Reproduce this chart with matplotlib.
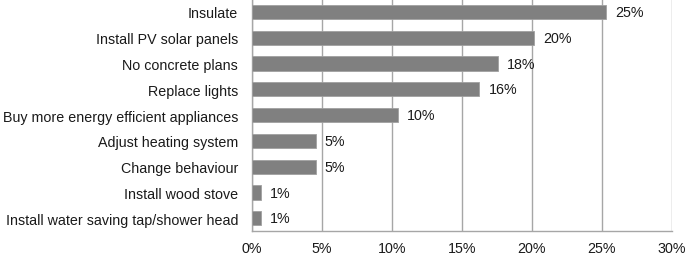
import matplotlib.pyplot as plt
from matplotlib.ticker import FuncFormatter

plt.rcParams['font.family'] = ['Liberation Sans', 'DejaVu Sans']

# answers, top to bottom
categories = ['Insulate', 'Install PV solar panels', 'No concrete plans',
              'Replace lights', 'Buy more energy efficient appliances',
              'Adjust heating system', 'Change behaviour',
              'Install wood stove', 'Install water saving tap/shower head']
shares = [25.3, 20.15, 17.55, 16.25, 10.4, 4.55, 4.55, 0.62, 0.62]
xticks = [0, 5, 10, 15, 20, 25, 30]

grid_col = '#a6a6a6'
fs = 10.3

fig = plt.figure(figsize=(6.85, 2.55), dpi=100)
ax = fig.add_axes([0.368, 0.089, 0.6126, 0.911])

ypos = list(range(len(categories)))[::-1]
ax.barh(ypos, shares, height=0.55, color='#808080', edgecolor='#a0a0a0',
        linewidth=0.6, zorder=3)
for y, v in zip(ypos, shares):
    ax.text(v + 0.65, y, f'{round(v):d}%', va='center', ha='left',
            fontsize=fs, color='#1a1a1a', zorder=4)

ax.set_xlim(0, 30)
ax.set_ylim(-0.5, len(categories) - 0.5)
ax.set_xticks(xticks)
ax.xaxis.set_major_formatter(FuncFormatter(lambda x, p: f'{x:.0f}%'))
ax.set_yticks(ypos)
ax.set_yticklabels(categories)
ax.tick_params(axis='both', length=0, labelsize=fs, colors='#1a1a1a')
ax.tick_params(axis='y', pad=10)
ax.tick_params(axis='x', pad=7)
ax.grid(axis='x', color=grid_col, linewidth=1, zorder=0)
for s in ['top', 'right']:
    ax.spines[s].set_visible(False)
for s in ['left', 'bottom']:
    ax.spines[s].set_color(grid_col)
    ax.spines[s].set_linewidth(1)

fig.savefig('out.png', dpi=100)
